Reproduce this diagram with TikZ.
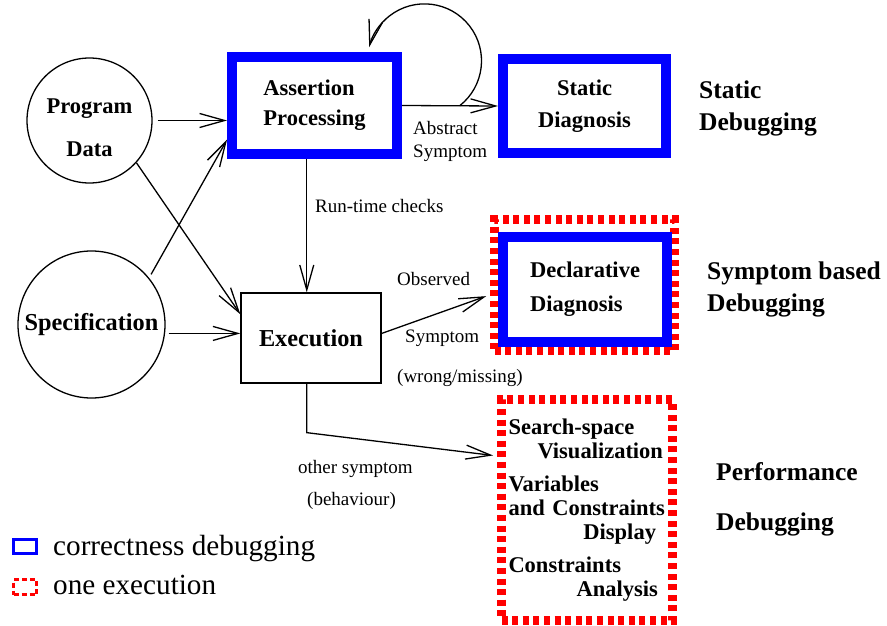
\documentclass[tikz,border=0pt]{standalone}
\usepackage{fontspec}
\setmainfont{Liberation Serif}
\usetikzlibrary{arrows.meta, calc}

\begin{document}
\begin{tikzpicture}[x=1pt, y=-1pt,
    bigbf/.style={font=\fontsize{22.5}{30}\selectfont\bfseries},
    lbl/.style={font=\fontsize{19}{23}\selectfont, inner sep=0pt},
    side/.style={font=\fontsize{25.5}{32}\selectfont\bfseries, inner sep=0pt, anchor=north west, align=left},
    circ/.style={draw, circle, line width=1.3pt, inner sep=0pt},
    correct/.style={draw=blue, line width=10pt, rectangle},
    oneexec/.style={draw=red, line width=9pt, dash pattern=on 6pt off 4.6pt},
    arr/.style={line width=1.3pt, -{Straight Barb[length=25pt, width=14pt]}},
    keytext/.style={font=\fontsize{29.2}{32}\selectfont, anchor=base west, inner sep=0pt}
  ]
    \useasboundingbox (0,0) rectangle (887,626);

    % Inputs
    \node[circ, align=center, minimum size=125pt, font=\fontsize{22.5}{43}\selectfont\bfseries] (prog) at (89.5,120.5) {\rule{0pt}{30pt}Program\\Data};
    \node[circ, minimum size=147pt, font=\fontsize{24.3}{30}\selectfont\bfseries] (spec) at (91.5,324.5) {Specification};

    % Processing boxes
    \node[correct, bigbf, align=left, minimum width=165pt, minimum height=97pt] (ap) at (314.5,105.5) {Assertion\\Processing};
    \node[correct, bigbf, font=\fontsize{22.5}{32}\selectfont\bfseries, align=center, minimum width=163pt, minimum height=94pt] (sd) at (584.5,106) {Static\\Diagnosis};
    \node[draw, line width=1.3pt, font=\fontsize{24.3}{30}\selectfont\bfseries, minimum width=140pt, minimum height=90pt] (exec) at (311,338) {Execution};
    \node[oneexec, minimum width=180pt, minimum height=131pt] (ddx) at (584.5,285) {};
    \node[correct, font=\fontsize{22.5}{34}\selectfont\bfseries, align=left, minimum width=164pt, minimum height=105pt] (dd) at (585,289.5) {Declarative\\Diagnosis};
    \node[oneexec, font=\fontsize{22.5}{24}\selectfont\bfseries, text width=157pt, inner sep=7pt, align=left, minimum width=171pt, minimum height=221pt] (perf) at (587,510) {%
      Search-space\\
      \hspace*{\fill}\mbox{Visualization\hspace{2.5pt}}\\[9pt]
      Variables\\
      and~Constraints\\
      \hspace*{\fill}\mbox{Display\hspace{9.5pt}}\\[9pt]
      Constraints\\
      \hspace*{\fill}\mbox{Analysis\hspace{7.5pt}}};

    % Kinds of debugging
    \node[side] (stdbg) at (699,80.5) {Static\\Debugging};
    \node[side] (symdbg) at (707,262) {Symptom based\\Debugging};
    \node[side, font=\fontsize{25.5}{50}\selectfont\bfseries] (perfdbg) at (716,462.5) {Performance\\Debugging};

    % Connector labels
    \node[lbl, align=left, anchor=north west] (abssym) at (413,121) {Abstract\\Symptom};
    \node[lbl, anchor=base west] (rtc) at (315,212) {Run-time checks};
    \node[lbl, anchor=base west] (obs) at (397,285) {Observed};
    \node[lbl, anchor=base west] (sym) at (405,342) {Symptom};
    \node[lbl, anchor=base west] (wm) at (397,382) {(wrong/missing)};
    \node[lbl, anchor=base west] (oth) at (298,473) {other symptom};
    \node[lbl, anchor=base west] (beh) at (307,505) {(behaviour)};

    % Connector ends
    \coordinate (ex in0) at ($(exec.north west)!0.47!(exec.north east)$);
    \coordinate (ex in1) at ($(exec.north west)!0.24!(exec.south west)$);
    \coordinate (ex in2) at ($(exec.north west)!0.45!(exec.south west)$);
    \coordinate (ex out1) at ($(exec.north east)!0.45!(exec.south east)$);
    \coordinate (ap in2) at ($(ap.north west)!0.82!(ap.south west)$);
    \coordinate (dd in) at ($(ddx.north west)!0.57!(ddx.south west)$);
    \coordinate (perf in) at ($(perf.north west)!0.265!(perf.south west)$);
    \coordinate (bend) at ($(exec.south -| ex in0)+(0,49)$);
    \coordinate (loop) at ($(ap.east)!0.6!(sd.west)$);

    % Connectors
    \draw[arr, shorten <=5pt] (prog.east) -- (prog.east -| ap.west);
    \draw[arr] (prog.-42) -- (ex in1);
    \draw[arr, shorten <=4pt] (spec.39) -- (ap in2);
    \draw[arr, shorten <=3pt] (spec.east |- ex in2) -- (ex in2);
    \draw[arr] (ap.south -| ex in0) -- (ex in0);
    \draw[arr] (ap.east) -- (sd.west);
    \draw[arr] (loop) arc[start angle=52, end angle=-166, radius=57];
    \draw[arr, shorten >=4pt] (ex out1) -- (dd in);
    \draw[arr, shorten >=4pt] (exec.south -| ex in0) -- (bend) -- (perf in);

    % Legend
    \node[draw=blue, line width=3pt, minimum width=23pt, minimum height=14pt, inner sep=0pt] (keyblue) at (25,546.5) {};
    \node[draw=red, line width=3pt, dash pattern=on 5pt off 3pt, minimum width=23pt, minimum height=15pt, inner sep=0pt] (keyred) at (25,587) {};
    \node[keytext] (keybluetxt) at (53,555) {correctness debugging};
    \node[keytext] (keyredtxt) at (53,594) {one execution};
\end{tikzpicture}
\end{document}
